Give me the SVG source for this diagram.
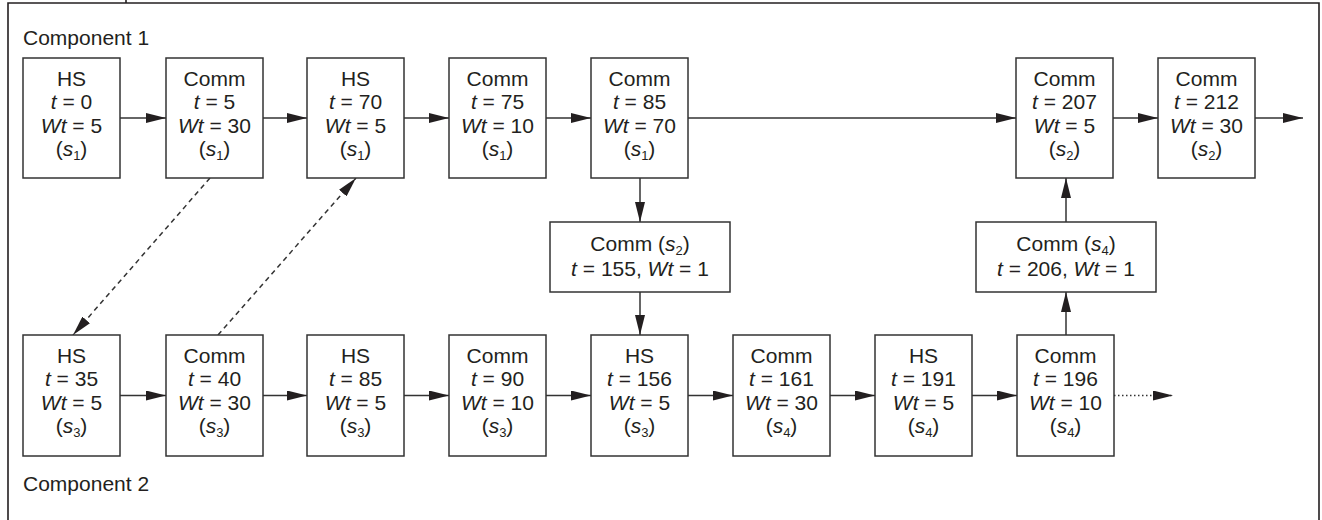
<svg xmlns="http://www.w3.org/2000/svg" width="1322" height="520" viewBox="0 0 1322 520">
<style>
text{font-family:"Liberation Sans",Arial,sans-serif;font-size:21px;fill:#231f20;text-anchor:middle}
.lbl{text-anchor:start}
.i{font-style:italic}
.sub{font-size:13px}
.box{fill:#fff;stroke:#333;stroke-width:1.5}
.ln{stroke:#333;stroke-width:1.5;fill:none}
.dash{stroke-dasharray:5 4}
.dot{stroke-dasharray:1.5 2.5}
</style>
<defs>
<marker id="ah" markerUnits="userSpaceOnUse" markerWidth="20" markerHeight="10" refX="20" refY="5" orient="auto">
<path d="M0,0 L20,5 L0,10 z" fill="#231f20"/>
</marker>
</defs>
<rect width="1322" height="520" fill="#fff"/>
<path d="M8,520 V3 H1319 V520 M126,0 V3" fill="none" stroke="#231f20" stroke-width="1.6"/>
<text class="lbl" x="23" y="45">Component 1</text>
<text class="lbl" x="23" y="491">Component 2</text>

<g id="connectors">
<path class="ln" d="M120,118 H166" marker-end="url(#ah)"/>
<path class="ln" d="M262,118 H307" marker-end="url(#ah)"/>
<path class="ln" d="M404,118 H449" marker-end="url(#ah)"/>
<path class="ln" d="M546,118 H591" marker-end="url(#ah)"/>
<path class="ln" d="M688,118 H1016" marker-end="url(#ah)"/>
<path class="ln" d="M1113,118 H1158" marker-end="url(#ah)"/>
<path class="ln" d="M1255,118 H1303" marker-end="url(#ah)"/>
<path class="ln" d="M120,395.5 H166" marker-end="url(#ah)"/>
<path class="ln" d="M262,395.5 H307" marker-end="url(#ah)"/>
<path class="ln" d="M404,395.5 H449" marker-end="url(#ah)"/>
<path class="ln" d="M546,395.5 H591" marker-end="url(#ah)"/>
<path class="ln" d="M688,395.5 H733" marker-end="url(#ah)"/>
<path class="ln" d="M830,395.5 H875" marker-end="url(#ah)"/>
<path class="ln" d="M972,395.5 H1017" marker-end="url(#ah)"/>
<path class="ln dot" d="M1114,395.5 H1173" marker-end="url(#ah)"/>
<path class="ln" d="M640,178 V222" marker-end="url(#ah)"/>
<path class="ln" d="M640,292 V335" marker-end="url(#ah)"/>
<path class="ln" d="M1066,335 V292" marker-end="url(#ah)"/>
<path class="ln" d="M1066,222 V178" marker-end="url(#ah)"/>
<path class="ln dash" d="M210,178 L73,335" marker-end="url(#ah)"/>
<path class="ln dash" d="M218,335 L356,178" marker-end="url(#ah)"/>
</g>

<g id="n1"><rect class="box" x="23" y="58" width="97" height="120"/>
<text x="71.5" y="86">HS</text><text x="71.5" y="109.3"><tspan class="i">t</tspan> = 0</text><text x="71.5" y="132.6"><tspan class="i">Wt</tspan> = 5</text><text x="71.5" y="155.9">(<tspan class="i">s</tspan><tspan class="sub" dy="4">1</tspan><tspan dy="-4">)</tspan></text></g>
<g id="n2"><rect class="box" x="166" y="58" width="97" height="120"/>
<text x="214.5" y="86">Comm</text><text x="214.5" y="109.3"><tspan class="i">t</tspan> = 5</text><text x="214.5" y="132.6"><tspan class="i">Wt</tspan> = 30</text><text x="214.5" y="155.9">(<tspan class="i">s</tspan><tspan class="sub" dy="4">1</tspan><tspan dy="-4">)</tspan></text></g>
<g id="n3"><rect class="box" x="307" y="58" width="97" height="120"/>
<text x="355.5" y="86">HS</text><text x="355.5" y="109.3"><tspan class="i">t</tspan> = 70</text><text x="355.5" y="132.6"><tspan class="i">Wt</tspan> = 5</text><text x="355.5" y="155.9">(<tspan class="i">s</tspan><tspan class="sub" dy="4">1</tspan><tspan dy="-4">)</tspan></text></g>
<g id="n4"><rect class="box" x="449" y="58" width="97" height="120"/>
<text x="497.5" y="86">Comm</text><text x="497.5" y="109.3"><tspan class="i">t</tspan> = 75</text><text x="497.5" y="132.6"><tspan class="i">Wt</tspan> = 10</text><text x="497.5" y="155.9">(<tspan class="i">s</tspan><tspan class="sub" dy="4">1</tspan><tspan dy="-4">)</tspan></text></g>
<g id="n5"><rect class="box" x="591" y="58" width="97" height="120"/>
<text x="639.5" y="86">Comm</text><text x="639.5" y="109.3"><tspan class="i">t</tspan> = 85</text><text x="639.5" y="132.6"><tspan class="i">Wt</tspan> = 70</text><text x="639.5" y="155.9">(<tspan class="i">s</tspan><tspan class="sub" dy="4">1</tspan><tspan dy="-4">)</tspan></text></g>
<g id="n6"><rect class="box" x="1016" y="58" width="97" height="120"/>
<text x="1064.5" y="86">Comm</text><text x="1064.5" y="109.3"><tspan class="i">t</tspan> = 207</text><text x="1064.5" y="132.6"><tspan class="i">Wt</tspan> = 5</text><text x="1064.5" y="155.9">(<tspan class="i">s</tspan><tspan class="sub" dy="4">2</tspan><tspan dy="-4">)</tspan></text></g>
<g id="n7"><rect class="box" x="1158" y="58" width="97" height="120"/>
<text x="1206.5" y="86">Comm</text><text x="1206.5" y="109.3"><tspan class="i">t</tspan> = 212</text><text x="1206.5" y="132.6"><tspan class="i">Wt</tspan> = 30</text><text x="1206.5" y="155.9">(<tspan class="i">s</tspan><tspan class="sub" dy="4">2</tspan><tspan dy="-4">)</tspan></text></g>

<g id="m1"><rect class="box" x="550" y="222" width="180" height="70"/>
<text x="640" y="251">Comm (<tspan class="i">s</tspan><tspan class="sub" dy="4">2</tspan><tspan dy="-4">)</tspan></text><text x="640" y="276"><tspan class="i">t</tspan> = 155, <tspan class="i">Wt</tspan> = 1</text></g>
<g id="m2"><rect class="box" x="976" y="222" width="180" height="70"/>
<text x="1066" y="251">Comm (<tspan class="i">s</tspan><tspan class="sub" dy="4">4</tspan><tspan dy="-4">)</tspan></text><text x="1066" y="276"><tspan class="i">t</tspan> = 206, <tspan class="i">Wt</tspan> = 1</text></g>

<g id="b1"><rect class="box" x="23" y="335" width="97" height="121"/>
<text x="71.5" y="363">HS</text><text x="71.5" y="386.3"><tspan class="i">t</tspan> = 35</text><text x="71.5" y="409.6"><tspan class="i">Wt</tspan> = 5</text><text x="71.5" y="432.9">(<tspan class="i">s</tspan><tspan class="sub" dy="4">3</tspan><tspan dy="-4">)</tspan></text></g>
<g id="b2"><rect class="box" x="166" y="335" width="97" height="121"/>
<text x="214.5" y="363">Comm</text><text x="214.5" y="386.3"><tspan class="i">t</tspan> = 40</text><text x="214.5" y="409.6"><tspan class="i">Wt</tspan> = 30</text><text x="214.5" y="432.9">(<tspan class="i">s</tspan><tspan class="sub" dy="4">3</tspan><tspan dy="-4">)</tspan></text></g>
<g id="b3"><rect class="box" x="307" y="335" width="97" height="121"/>
<text x="355.5" y="363">HS</text><text x="355.5" y="386.3"><tspan class="i">t</tspan> = 85</text><text x="355.5" y="409.6"><tspan class="i">Wt</tspan> = 5</text><text x="355.5" y="432.9">(<tspan class="i">s</tspan><tspan class="sub" dy="4">3</tspan><tspan dy="-4">)</tspan></text></g>
<g id="b4"><rect class="box" x="449" y="335" width="97" height="121"/>
<text x="497.5" y="363">Comm</text><text x="497.5" y="386.3"><tspan class="i">t</tspan> = 90</text><text x="497.5" y="409.6"><tspan class="i">Wt</tspan> = 10</text><text x="497.5" y="432.9">(<tspan class="i">s</tspan><tspan class="sub" dy="4">3</tspan><tspan dy="-4">)</tspan></text></g>
<g id="b5"><rect class="box" x="591" y="335" width="97" height="121"/>
<text x="639.5" y="363">HS</text><text x="639.5" y="386.3"><tspan class="i">t</tspan> = 156</text><text x="639.5" y="409.6"><tspan class="i">Wt</tspan> = 5</text><text x="639.5" y="432.9">(<tspan class="i">s</tspan><tspan class="sub" dy="4">3</tspan><tspan dy="-4">)</tspan></text></g>
<g id="b6"><rect class="box" x="733" y="335" width="97" height="121"/>
<text x="781.5" y="363">Comm</text><text x="781.5" y="386.3"><tspan class="i">t</tspan> = 161</text><text x="781.5" y="409.6"><tspan class="i">Wt</tspan> = 30</text><text x="781.5" y="432.9">(<tspan class="i">s</tspan><tspan class="sub" dy="4">4</tspan><tspan dy="-4">)</tspan></text></g>
<g id="b7"><rect class="box" x="875" y="335" width="97" height="121"/>
<text x="923.5" y="363">HS</text><text x="923.5" y="386.3"><tspan class="i">t</tspan> = 191</text><text x="923.5" y="409.6"><tspan class="i">Wt</tspan> = 5</text><text x="923.5" y="432.9">(<tspan class="i">s</tspan><tspan class="sub" dy="4">4</tspan><tspan dy="-4">)</tspan></text></g>
<g id="b8"><rect class="box" x="1017" y="335" width="97" height="121"/>
<text x="1065.5" y="363">Comm</text><text x="1065.5" y="386.3"><tspan class="i">t</tspan> = 196</text><text x="1065.5" y="409.6"><tspan class="i">Wt</tspan> = 10</text><text x="1065.5" y="432.9">(<tspan class="i">s</tspan><tspan class="sub" dy="4">4</tspan><tspan dy="-4">)</tspan></text></g>
</svg>
